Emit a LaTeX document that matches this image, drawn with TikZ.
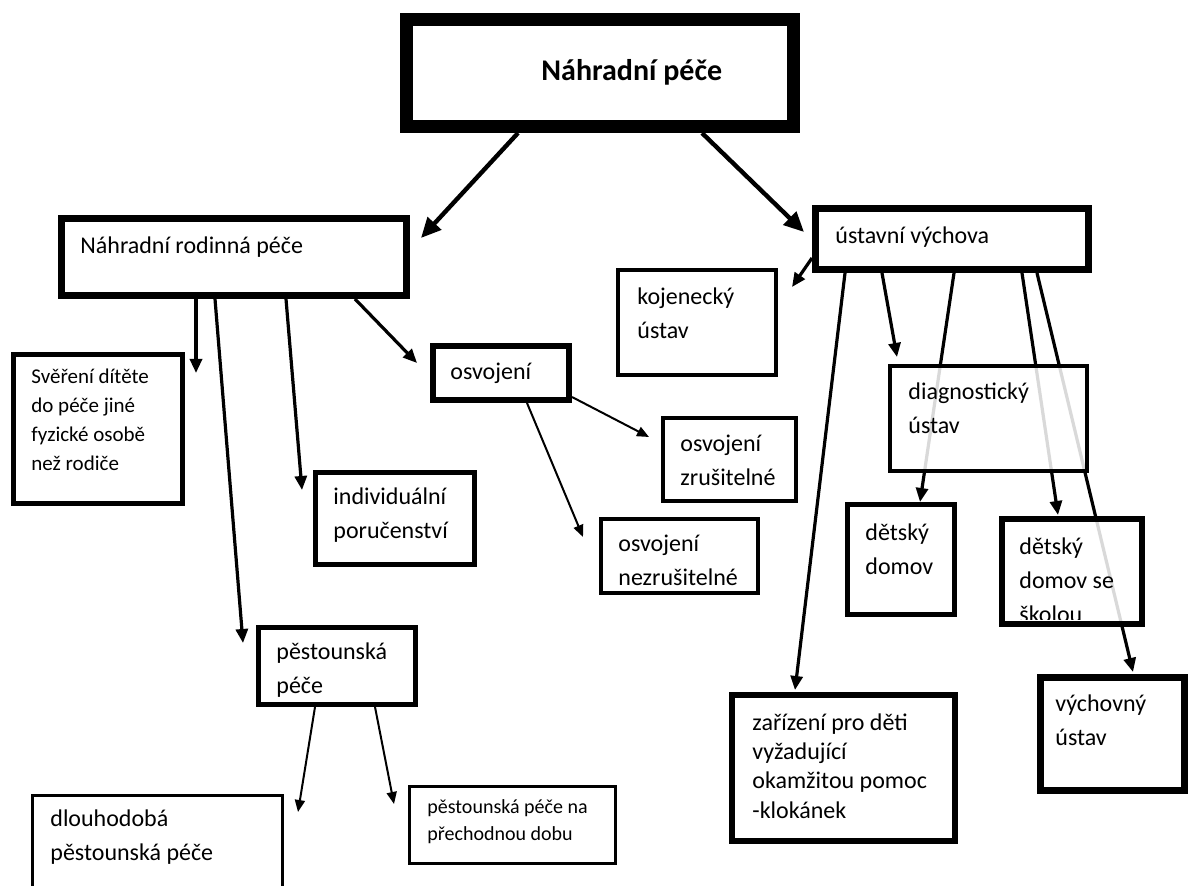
\documentclass[tikz,border=0pt]{standalone}
\usepackage{fontspec}
\setmainfont{Carlito}
\usetikzlibrary{arrows.meta,backgrounds}

\begin{document}
\begin{tikzpicture}[x=0.5pt, y=-0.5pt,
    boxframe/.style={draw, fill=white, fill opacity=.85, inner sep=0pt},
    txt/.style={anchor=west, align=left, inner sep=0pt, font=\fontsize{12}{17}\selectfont},
    mainarr/.style={line width=2.2pt, -{Triangle[length=10pt, width=9pt]}},
    subarr/.style={line width=1.6pt, -{Triangle[length=7pt, width=6pt]}},
    leafarr/.style={line width=1pt, -{Triangle[length=6pt, width=5pt]}}]

  \useasboundingbox (0,0) rectangle (1192,886);

  % boxes
  \node[boxframe, line width=6.5pt, minimum width=193.5pt, minimum height=53.5pt] (head) at (600,73) {};
  \node[boxframe, line width=3.5pt, minimum width=172.5pt, minimum height=38.5pt] (nrp) at (234,257) {};
  \node[boxframe, line width=2.5pt, minimum width=84.5pt, minimum height=74.5pt] (sver) at (98,429) {};
  \node[boxframe, line width=2.5pt, minimum width=79.5pt, minimum height=46pt] (indiv) at (395,518.5) {};
  \node[boxframe, line width=3pt, minimum width=68pt, minimum height=27pt] (osv) at (501,373) {};
  \node[boxframe, line width=2pt, minimum width=66.5pt, minimum height=41.5pt] (zrus) at (729.5,459.5) {};
  \node[boxframe, line width=2pt, minimum width=78.5pt, minimum height=37pt] (nezrus) at (679.5,556) {};
  \node[boxframe, line width=2.5pt, minimum width=78.5pt, minimum height=38.5pt] (pest) at (337,666) {};
  \node[boxframe, line width=1.5pt, minimum width=125pt, minimum height=57.25pt] (dlouh) at (157.5,852.75) {};
  \node[boxframe, line width=1.5pt, minimum width=103pt, minimum height=38.5pt] (prech) at (512.5,825) {};
  \node[boxframe, line width=3.5pt, minimum width=136.5pt, minimum height=30.5pt] (ustav) at (952,239) {};
  \node[boxframe, line width=2pt, minimum width=79pt, minimum height=52.5pt] (kojen) at (697,322.5) {};
  \node[boxframe, line width=2pt, minimum width=98.5pt, minimum height=52.5pt] (diag) at (988.5,418.5) {};
  \node[boxframe, line width=2.5pt, minimum width=53.5pt, minimum height=55pt] (ddom) at (901,559.5) {};
  \node[boxframe, line width=3pt, minimum width=70pt, minimum height=52.5pt] (dskol) at (1072,571.5) {};
  \node[boxframe, line width=3.5pt, minimum width=72pt, minimum height=56.5pt] (vych) at (1112.5,734) {};
  \node[boxframe, line width=3pt, minimum width=111.5pt, minimum height=73pt] (zariz) at (843.5,768) {};

  % texts
  \node[txt, font=\bfseries\fontsize{15}{18}\selectfont] (head-t) at (541,72) {Náhradní péče};
  \node[txt] (nrp-t) at (80,247) {Náhradní rodinná péče};
  \node[txt, font=\fontsize{10.5}{14.5}\selectfont] (sver-t) at (31,419.5) {Svěření dítěte\\do péče jiné\\fyzické osobě\\než rodiče};
  \node[txt] (indiv-t) at (333,515) {individuální\\poručenství};
  \node[txt] (osv-t) at (450,373) {osvojení};
  \node[txt] (zrus-t) at (680,460) {osvojení\\zrušitelné};
  \node[txt] (nezrus-t) at (618,560) {osvojení\\nezrušitelné};
  \node[txt] (pest-t) at (276,670.5) {pěstounská\\péče};
  \node[txt] (dlouh-t) at (50,837.5) {dlouhodobá\\pěstounská péče};
  \node[txt, font=\fontsize{10}{13.5}\selectfont] (prech-t) at (427,821.5) {pěstounská péče na\\přechodnou dobu};
  \node[txt] (ustav-t) at (835,237) {ústavní výchova};
  \node[txt] (kojen-t) at (637,313) {kojenecký\\ústav};
  \node[txt] (diag-t) at (908,408.5) {diagnostický\\ústav};
  \node[txt] (ddom-t) at (865,549) {dětský\\domov};
  \begin{scope}
    \clip (dskol.north west) rectangle ([shift={(0,-8)}]dskol.south east);
    \node[txt] (dskol-t) at (1019,580) {dětský\\domov se\\školou};
  \end{scope}
  \node[txt] (vych-t) at (1055,720) {výchovný\\ústav};
  \node[txt, font=\fontsize{12}{14.7}\selectfont] (zariz-t) at (752,766) {zařízení pro děti\\vyžadující\\okamžitou pomoc\\-klokánek};

  % arrow tips
  \coordinate (t-nrp) at (421,238);
  \coordinate (t-ustav) at (804,232);
  \coordinate (t-sver) at (196,373);
  \coordinate (t-pest) at (243,643);
  \coordinate (t-indiv) at (302,490);
  \coordinate (t-osv) at (417,363);
  \coordinate (t-zrus) at (649,437);
  \coordinate (t-nezrus) at (583,537);
  \coordinate (t-dlouh) at (298,812);
  \coordinate (t-prech) at (394,804);
  \coordinate (t-kojen) at (792,287);
  \coordinate (t-zariz) at (795,690);
  \coordinate (t-diag) at (897,357);
  \coordinate (t-ddom) at (920,502);
  \coordinate (t-dskol) at (1058,515);
  \coordinate (t-vych) at (1133,672);

  \begin{scope}[on background layer]
    \draw[mainarr] ([shift={(118,0)}]head.south west) -- (t-nrp);
    \draw[mainarr] ([shift={(302,0)}]head.south west) -- (t-ustav);

    \draw[subarr] ([shift={(138,0)}]nrp.south west) -- (t-sver);
    \draw[subarr] ([shift={(157,0)}]nrp.south west) -- (t-pest);
    \draw[subarr] ([shift={(228,0)}]nrp.south west) -- (t-indiv);
    \draw[subarr] ([shift={(297,0)}]nrp.south west) -- (t-osv);

    \draw[leafarr] ([shift={(0,-6)}]osv.south east) -- (t-zrus);
    \draw[leafarr] ([shift={(97,0)}]osv.south west) -- (t-nezrus);
    \draw[leafarr] ([shift={(59,0)}]pest.south west) -- (t-dlouh);
    \draw[leafarr] ([shift={(119,0)}]pest.south west) -- (t-prech);

    \draw[subarr] ([shift={(0,-15)}]ustav.south west) -- (t-kojen);
    \draw[subarr] ([shift={(33,0)}]ustav.south west) -- (t-zariz);
    \draw[subarr] ([shift={(70,0)}]ustav.south west) -- (t-diag);
    \draw[subarr] ([shift={(142,0)}]ustav.south west) -- (t-ddom);
    \draw[subarr] ([shift={(210,0)}]ustav.south west) -- (t-dskol);
    \draw[subarr] ([shift={(225,0)}]ustav.south west) -- (t-vych);
  \end{scope}

\end{tikzpicture}
\end{document}
